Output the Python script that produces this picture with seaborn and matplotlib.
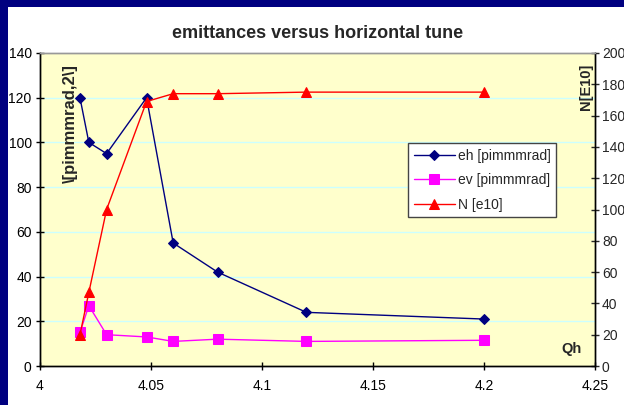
"""emittances versus horizontal tune"""
import seaborn as sns
import matplotlib.pyplot as plt

# data
qh = [4.018, 4.022, 4.030, 4.048, 4.060, 4.080, 4.120, 4.200]
eh = [120, 100, 95, 120, 55, 42, 24, 21]
ev = [15, 27, 14, 13, 11, 12, 11, 11.5]
n_e10 = [20, 47, 100, 169, 174, 174, 175, 175]

left_ticks = list(range(0, 141, 20))
right_ticks = list(range(0, 201, 20))
x_ticks = [4, 4.05, 4.1, 4.15, 4.2, 4.25]
x_ticklabels = ['4', '4.05', '4.1', '4.15', '4.2', '4.25']

sns.set_style('white')
plt.rcParams['font.family'] = ['Liberation Sans', 'DejaVu Sans']

fig = plt.figure(figsize=(6.24, 4.05), dpi=100, facecolor='white')
# navy frame on top and left only
for rect in ([0, 1 - 7 / 405, 1, 7 / 405], [0, 0, 8 / 624, 1]):
    band = fig.add_axes(rect, zorder=-1)
    band.set_facecolor('#000080')
    band.set_xticks([])
    band.set_yticks([])
    for s in band.spines.values():
        s.set_visible(False)

ax = fig.add_axes([40 / 624, 1 - 366 / 405, 555 / 624, 313 / 405])
ax.set_facecolor('#FFFFCC')
ax2 = ax.twinx()

sns.lineplot(x=qh, y=eh, ax=ax, color='#000080', marker='D', markersize=5.5,
             markeredgecolor='#000080', linewidth=1, label='eh [pimmmrad]', legend=False)
sns.lineplot(x=qh, y=ev, ax=ax, color='#FF00FF', marker='s', markersize=7,
             markeredgecolor='#FF00FF', linewidth=1, label='ev [pimmmrad]', legend=False)
sns.lineplot(x=qh, y=n_e10, ax=ax2, color='#FF0000', marker='^', markersize=7,
             markeredgecolor='#FF0000', linewidth=1, label='N [e10]', legend=False)

ax.set_xlim(4, 4.25)
ax.set_ylim(0, 140)
ax2.set_ylim(0, 200)
ax.set_xticks(x_ticks)
ax.set_xticklabels(x_ticklabels)
ax.set_yticks(left_ticks)
ax2.set_yticks(right_ticks)

for y in left_ticks[1:-1]:
    ax.axhline(y, color='#CCFFFF', linewidth=1, zorder=0)

ax.tick_params(axis='both', labelsize=10, direction='inout', length=6, width=1,
               colors='black', pad=3)
ax.tick_params(axis='y', left=True)
ax.tick_params(axis='x', bottom=True, pad=6)
ax2.tick_params(axis='y', labelsize=10, direction='inout', length=6, width=1,
                right=True, pad=2)

for a in (ax, ax2):
    a.spines['top'].set_color('#999999')
    a.spines['left'].set_color('black')
    a.spines['bottom'].set_color('black')
    a.spines['right'].set_color('black')
    for s in a.spines.values():
        s.set_linewidth(1)
ax.set_xlabel('')
ax.set_ylabel('')

ax.set_title('emittances versus horizontal tune', fontsize=13, fontweight='bold', pad=11)
ax.text(0.055, 0.965, r'\[pimmmrad,2\]', transform=ax.transAxes, rotation=90,
        ha='center', va='top', fontsize=12, fontweight='bold')
ax.text(0.983, 0.965, 'N[E10]', transform=ax.transAxes, rotation=90,
        ha='center', va='top', fontsize=10.5, fontweight='bold')
ax.text(0.975, 0.055, 'Qh', transform=ax.transAxes, ha='right', va='center',
        fontsize=10.5, fontweight='bold')

h1, l1 = ax.get_legend_handles_labels()
h2, l2 = ax2.get_legend_handles_labels()
leg = ax2.legend(h1 + h2, l1 + l2, loc='upper left', bbox_to_anchor=(0.663, 0.712),
                 borderaxespad=0, fontsize=10, frameon=True, fancybox=False,
                 edgecolor='#444444', framealpha=1, borderpad=0.4, labelspacing=0.75,
                 handlelength=3, handletextpad=0.2)
leg.get_frame().set_linewidth(1)

fig.savefig('out.png', dpi=100, facecolor='white', edgecolor='white')
